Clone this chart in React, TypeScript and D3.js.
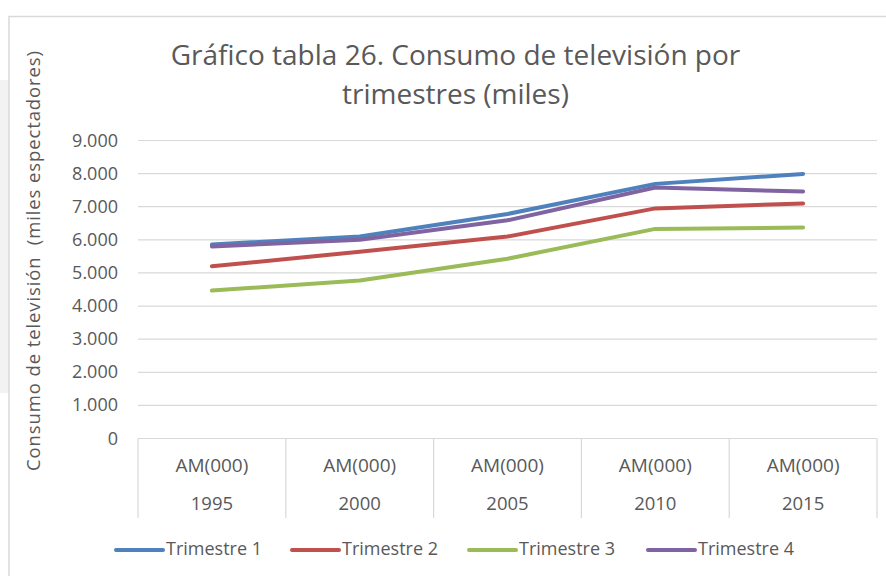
import React from "react";
import * as d3 from "d3";

const years = ["1995", "2000", "2005", "2010", "2015"];
const subLabel = "AM(000)";
const seriesNames = ["Trimestre 1", "Trimestre 2", "Trimestre 3", "Trimestre 4"];
const trimestre1 = [5860, 6100, 6780, 7690, 7990];
const trimestre2 = [5200, 5640, 6100, 6950, 7100];
const trimestre3 = [4470, 4770, 5430, 6330, 6370];
const trimestre4 = [5800, 6000, 6590, 7580, 7460];
const yTicks = [0, 1000, 2000, 3000, 4000, 5000, 6000, 7000, 8000, 9000];
const colors = ["#4F81BD", "#C0504D", "#9BBB59", "#8064A2"];

const W = 886;
const H = 576;
const left = 138;
const right = 877;
const top = 140.5;
const bottom = 438.5;
const FONT = "'Open Sans', sans-serif";
const TXT = "#595959";

export default function App() {
  const allSeries = [trimestre1, trimestre2, trimestre3, trimestre4];
  const x = d3.scaleBand<string>().domain(years).range([left, right]).padding(0);
  const y = d3.scaleLinear().domain([0, 9000]).range([bottom, top]);
  const line = d3
    .line<number>()
    .x((_, i) => (x(years[i]) as number) + x.bandwidth() / 2)
    .y((d) => y(d));
  const fmt = (v: number) => (v === 0 ? "0" : d3.format(",")(v).replace(/,/g, "."));

  const legendItems = [
    { lx: 116, tx: 166 },
    { lx: 292, tx: 342 },
    { lx: 469, tx: 519 },
    { lx: 648, tx: 698 },
  ];

  return (
    <svg
      width={W}
      height={H}
      style={{ position: "absolute", left: 0, top: 0, background: "#fff" }}
      fontFamily={FONT}
    >
      <rect x={0} y={80} width={9} height={313} fill="#f2f2f2" />
      <rect x={9} y={16.5} width={890} height={600} fill="#fff" stroke="#d9d9d9" strokeWidth={1.5} />
      <text x={455.5} y={65} textAnchor="middle" fontSize={28} fill={TXT}>
        Gráfico tabla 26. Consumo de televisión por
      </text>
      <text x={455.5} y={104} textAnchor="middle" fontSize={28} fill={TXT}>
        trimestres (miles)
      </text>
      <text
        transform="translate(40,261) rotate(-90)"
        textAnchor="middle"
        fontSize={18.5}
        fill={TXT}
        textLength={420}
        lengthAdjust="spacing"
        style={{ whiteSpace: "pre" }}
      >
        {"Consumo de televisión  (miles espectadores)"}
      </text>
      {yTicks.map((t) => (
        <g key={t}>
          {t > 0 && (
            <line x1={left} x2={right} y1={y(t)} y2={y(t)} stroke="#d9d9d9" strokeWidth={1.2} />
          )}
          <text x={118} y={y(t) + 6} textAnchor="end" fontSize={18} fill={TXT}>
            {fmt(t)}
          </text>
        </g>
      ))}
      <line x1={left} x2={right} y1={bottom} y2={bottom} stroke="#d9d9d9" strokeWidth={1.2} />
      {[...years.map((yr) => x(yr) as number), right].map((vx, i) => (
        <line key={i} x1={vx} x2={vx} y1={bottom} y2={518} stroke="#d9d9d9" strokeWidth={1.2} />
      ))}
      {years.map((yr) => {
        const cx = (x(yr) as number) + x.bandwidth() / 2;
        return (
          <g key={yr}>
            <text x={cx} y={471.5} textAnchor="middle" fontSize={19} fill={TXT}>
              {subLabel}
            </text>
            <text x={cx} y={509.5} textAnchor="middle" fontSize={18.5} fill={TXT}>
              {yr}
            </text>
          </g>
        );
      })}
      {allSeries.map((s, i) => (
        <path
          key={i}
          d={line(s) as string}
          fill="none"
          stroke={colors[i]}
          strokeWidth={4}
          strokeLinecap="round"
          strokeLinejoin="round"
        />
      ))}
      {seriesNames.map((n, i) => (
        <g key={n}>
          <line
            x1={legendItems[i].lx}
            x2={legendItems[i].lx + 47}
            y1={550}
            y2={550}
            stroke={colors[i]}
            strokeWidth={4}
            strokeLinecap="round"
          />
          <text x={legendItems[i].tx} y={554.5} fontSize={18} fill={TXT}>
            {n}
          </text>
        </g>
      ))}
    </svg>
  );
}
